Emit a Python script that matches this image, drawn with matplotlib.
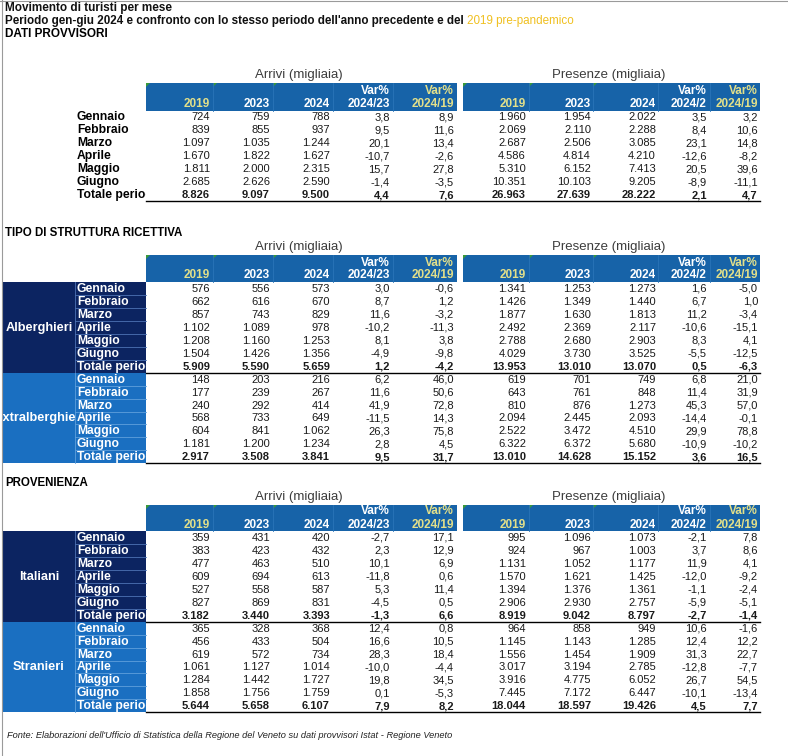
import numpy as np
import matplotlib.pyplot as plt
from matplotlib.patches import Rectangle, Polygon

plt.rcParams['font.family'] = ['Liberation Sans', 'DejaVu Sans']

# --- dati ---
months = ["Gennaio", "Febbraio", "Marzo", "Aprile", "Maggio", "Giugno", "Totale periodo"]
year_labels = ["2019", "2023", "2024"]
var_arr_labels = ["2024/23", "2024/19"]
var_pre_labels = ["2024/2", "2024/19"]

# totale
tot_arr = [[724, 839, 1097, 1670, 1811, 2685, 8826],
           [759, 855, 1035, 1822, 2000, 2626, 9097],
           [788, 937, 1244, 1627, 2315, 2590, 9500]]
tot_arr_var = [[3.8, 9.5, 20.1, -10.7, 15.7, -1.4, 4.4],
               [8.9, 11.6, 13.4, -2.6, 27.8, -3.5, 7.6]]
tot_pre = [[1960, 2069, 2687, 4586, 5310, 10351, 26963],
           [1954, 2110, 2506, 4814, 6152, 10103, 27639],
           [2022, 2288, 3085, 4210, 7413, 9205, 28222]]
tot_pre_var = [[3.5, 8.4, 23.1, -12.6, 20.5, -8.9, 2.1],
               [3.2, 10.6, 14.8, -8.2, 39.6, -11.1, 4.7]]

# alberghieri
alb_arr = [[576, 662, 857, 1102, 1208, 1504, 5909],
           [556, 616, 743, 1089, 1160, 1426, 5590],
           [573, 670, 829, 978, 1253, 1356, 5659]]
alb_arr_var = [[3.0, 8.7, 11.6, -10.2, 8.1, -4.9, 1.2],
               [-0.6, 1.2, -3.2, -11.3, 3.8, -9.8, -4.2]]
alb_pre = [[1341, 1426, 1877, 2492, 2788, 4029, 13953],
           [1253, 1349, 1630, 2369, 2680, 3730, 13010],
           [1273, 1440, 1813, 2117, 2903, 3525, 13070]]
alb_pre_var = [[1.6, 6.7, 11.2, -10.6, 8.3, -5.5, 0.5],
               [-5.0, 1.0, -3.4, -15.1, 4.1, -12.5, -6.3]]

# extralberghieri
ext_arr = [[148, 177, 240, 568, 604, 1181, 2917],
           [203, 239, 292, 733, 841, 1200, 3508],
           [216, 267, 414, 649, 1062, 1234, 3841]]
ext_arr_var = [[6.2, 11.6, 41.9, -11.5, 26.3, 2.8, 9.5],
               [46.0, 50.6, 72.8, 14.3, 75.8, 4.5, 31.7]]
ext_pre = [[619, 643, 810, 2094, 2522, 6322, 13010],
           [701, 761, 876, 2445, 3472, 6372, 14628],
           [749, 848, 1273, 2093, 4510, 5680, 15152]]
ext_pre_var = [[6.8, 11.4, 45.3, -14.4, 29.9, -10.9, 3.6],
               [21.0, 31.9, 57.0, -0.1, 78.8, -10.2, 16.5]]

# italiani
ita_arr = [[359, 383, 477, 609, 527, 827, 3182],
           [431, 423, 463, 694, 558, 869, 3440],
           [420, 432, 510, 613, 587, 831, 3393]]
ita_arr_var = [[-2.7, 2.3, 10.1, -11.8, 5.3, -4.5, -1.3],
               [17.1, 12.9, 6.9, 0.6, 11.4, 0.5, 6.6]]
ita_pre = [[995, 924, 1131, 1570, 1394, 2906, 8919],
           [1096, 967, 1052, 1621, 1376, 2930, 9042],
           [1073, 1003, 1177, 1425, 1361, 2757, 8797]]
ita_pre_var = [[-2.1, 3.7, 11.9, -12.0, -1.1, -5.9, -2.7],
               [7.8, 8.6, 4.1, -9.2, -2.4, -5.1, -1.4]]

# stranieri
str_arr = [[365, 456, 619, 1061, 1284, 1858, 5644],
           [328, 433, 572, 1127, 1442, 1756, 5658],
           [368, 504, 734, 1014, 1727, 1759, 6107]]
str_arr_var = [[12.4, 16.6, 28.3, -10.0, 19.8, 0.1, 7.9],
               [0.8, 10.5, 18.4, -4.4, 34.5, -5.3, 8.2]]
str_pre = [[964, 1145, 1556, 3017, 3916, 7445, 18044],
           [858, 1143, 1454, 3194, 4775, 7172, 18597],
           [949, 1285, 1909, 2785, 6052, 6447, 19426]]
str_pre_var = [[10.6, 12.4, 31.3, -12.8, 26.7, -10.1, 4.5],
               [-1.6, 12.2, 22.7, -7.7, 54.5, -13.4, 7.7]]

# --- stile ---
HDR_BLUE = "#1763a8"
NAVY = "#0c2461"
LIGHT = "#1a6fc1"
YEL = "#e3e08a"
RH = 12.95
arr_bounds = [146, 213, 273, 333, 393, 457]
pre_bounds = [463, 529, 593, 658, 710, 760]
arr_right = [210, 270, 330, 390, 454]
pre_right = [526, 591, 656, 707, 758]

fig = plt.figure(figsize=(7.88, 7.56), dpi=100)
ax = fig.add_axes([0, 0, 1, 1])
ax.set_xlim(0, 788)
ax.set_ylim(756, 0)
ax.axis("off")


def fmt_int(v):
    return f"{v:,}".replace(",", ".")


def fmt_pct(v):
    return f"{v:.1f}".replace(".", ",")


def clipped_text(x, y, s, x0, x1, y0, y1, **kw):
    # testo tagliato dentro la cella, come nel foglio di calcolo
    t = ax.text(x, y, s, **kw)
    clip = Rectangle((x0, y0), x1 - x0, y1 - y0, transform=ax.transData)
    t.set_clip_path(clip)
    t.set_clip_on(True)
    return t


def draw_header(top, bot):
    for bounds, right, var_labels, title in [
            (arr_bounds, arr_right, var_arr_labels, "Arrivi (migliaia)"),
            (pre_bounds, pre_right, var_pre_labels, "Presenze (migliaia)")]:
        ax.add_patch(Rectangle((bounds[0], top), bounds[-1] - bounds[0], bot - top,
                               color=HDR_BLUE, lw=0))
        for xb in bounds[1:-1]:
            ax.plot([xb, xb], [top, bot], color="#2a74b8", lw=0.6)
        for xb in bounds[:3]:
            ax.add_patch(Polygon([(xb, top), (xb + 4, top), (xb, top + 4)],
                                 color="#3a9a3a", lw=0))
        ax.text((bounds[0] + bounds[-1]) / 2 - 3, top - 8, title, ha="center",
                va="center", fontsize=9.5, color="#3c3c3c")
        yl = bot - 6.5
        for i, lab in enumerate(year_labels):
            ax.text(right[i], yl, lab, ha="right", va="center", fontsize=8.5,
                    fontweight="bold", color=YEL if i == 0 else "white")
        for j, lab in enumerate(var_labels):
            c = YEL if j == 1 else "white"
            ax.text(right[3 + j], bot - 19.5, "Var%", ha="right", va="center",
                    fontsize=8.5, fontweight="bold", color=c)
            ax.text(right[3 + j], yl, lab, ha="right", va="center", fontsize=8.5,
                    fontweight="bold", color=c)


def draw_rows(top, arr, arr_var, pre, pre_var, group=None, gcolor=None):
    n = len(months)
    if group is not None:
        ax.add_patch(Rectangle((3, top), 143, n * RH, color=gcolor, lw=0))
        lc = "#4d72b4" if gcolor == NAVY else "#5f9fdc"
        for i in range(1, n):
            ax.plot([75, 146], [top + i * RH, top + i * RH], color=lc, lw=0.6)
        ax.plot([75, 75], [top, top + n * RH], color=lc, lw=0.6)
        clipped_text(39, top + n * RH / 2 + 0.5, group, 3, 75, top, top + n * RH,
                     ha="center", va="center", fontsize=9.2, fontweight="bold",
                     color="white")
    for i, m in enumerate(months):
        y = top + i * RH + RH / 2 + 0.5
        bold = "bold" if i == n - 1 else "normal"
        mcol = "black" if group is None else "white"
        clipped_text(77, y, m, 75, 146, top + i * RH, top + (i + 1) * RH,
                     ha="left", va="center", fontsize=8.7, fontweight="bold",
                     color=mcol)
        for k in range(3):
            ax.text(arr_right[k], y, fmt_int(arr[k][i]), ha="right", va="center",
                    fontsize=8, fontweight=bold, color="#1a1a1a")
            ax.text(pre_right[k], y, fmt_int(pre[k][i]), ha="right", va="center",
                    fontsize=8, fontweight=bold, color="#1a1a1a")
        for k in range(2):
            ax.text(arr_right[3 + k], y, fmt_pct(arr_var[k][i]), ha="right",
                    va="center", fontsize=8, fontweight=bold, color="#1a1a1a")
            ax.text(pre_right[3 + k], y, fmt_pct(pre_var[k][i]), ha="right",
                    va="center", fontsize=8, fontweight=bold, color="#1a1a1a")
    yb = top + n * RH
    ax.plot([146, 760], [yb, yb], color="black", lw=1.0)
    return yb


# bordo foglio
ax.plot([2.5, 2.5], [0, 756], color="#9a9a9a", lw=0.8)
ax.plot([0, 788], [1, 1], color="#9a9a9a", lw=0.8)

# titoli
ax.text(5, 8, "Movimento di turisti per mese", ha="left", va="center",
        fontsize=8.5, fontweight="bold", color="#111111")
t = ax.text(5, 21, "Periodo gen-giu 2024 e confronto con lo stesso periodo dell'anno precedente e del ",
            ha="left", va="center", fontsize=8.4, fontweight="bold", color="#111111")
fig.canvas.draw()
x_end = t.get_window_extent().x1
ax.text(x_end, 21, "2019 pre-pandemico", ha="left", va="center", fontsize=8.4,
        color="#f0c020")
ax.text(5, 34, "DATI PROVVISORI", ha="left", va="center", fontsize=8.5,
        fontweight="bold", color="black")

# sezione 1
draw_header(83, 110.5)
draw_rows(110.5, tot_arr, tot_arr_var, tot_pre, tot_pre_var)

# sezione 2
ax.text(5, 233, "TIPO DI STRUTTURA RICETTIVA", ha="left", va="center",
        fontsize=8.3, fontweight="bold", color="black")
draw_header(255, 282)
yb = draw_rows(282, alb_arr, alb_arr_var, alb_pre, alb_pre_var, "Alberghieri", NAVY)
draw_rows(yb, ext_arr, ext_arr_var, ext_pre, ext_pre_var, "Extralberghieri", LIGHT)

# sezione 3
ax.text(5, 483, "PROVENIENZA", ha="left", va="center", fontsize=8.3,
        fontweight="bold", color="black")
draw_header(505, 531)
yb = draw_rows(531, ita_arr, ita_arr_var, ita_pre, ita_pre_var, "Italiani", NAVY)
draw_rows(yb, str_arr, str_arr_var, str_pre, str_pre_var, "Stranieri", LIGHT)

ax.text(7, 735, "Fonte: Elaborazioni dell'Ufficio di Statistica della Regione del Veneto "
        "su dati provvisori Istat - Regione Veneto", ha="left", va="center",
        fontsize=6.7, fontstyle="italic", color="#222222")

plt.savefig("out.png", dpi=100)
